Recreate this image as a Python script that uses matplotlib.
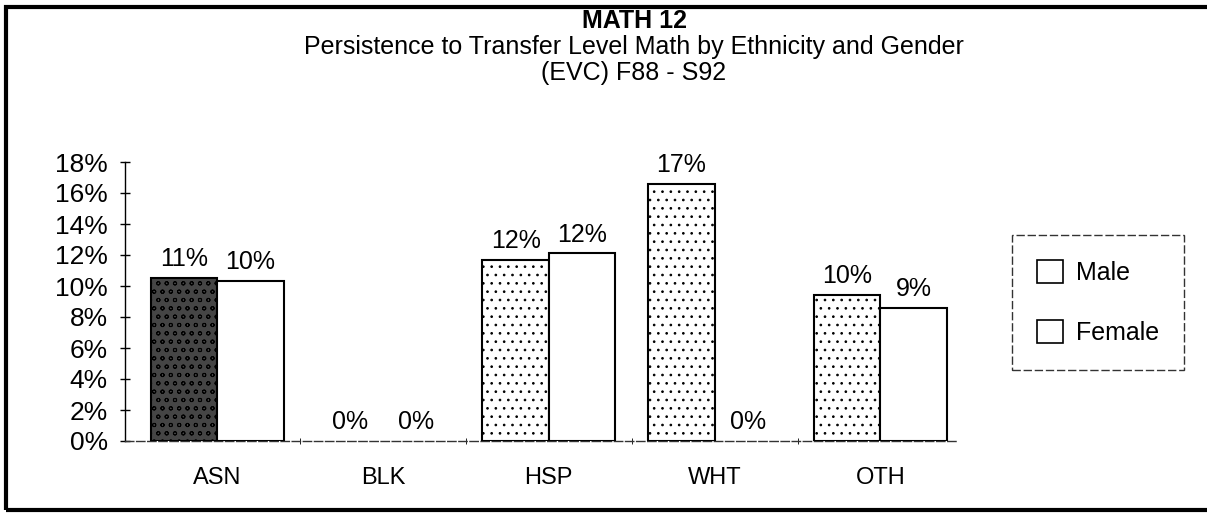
import matplotlib
matplotlib.use("Agg")
import matplotlib.pyplot as plt
from matplotlib.patches import Rectangle
import numpy as np

plt.rcParams['font.family'] = ['Liberation Sans', 'DejaVu Sans']
plt.rcParams['hatch.linewidth'] = 0.7

categories = ["ASN", "BLK", "HSP", "WHT", "OTH"]
male = [10.5, 0.0, 11.7, 16.6, 9.4]
female = [10.3, 0.0, 12.1, 0.0, 8.6]
male_labels = ["11%", "0%", "12%", "17%", "10%"]
female_labels = ["10%", "0%", "12%", "0%", "9%"]
yticks = [0, 2, 4, 6, 8, 10, 12, 14, 16, 18]

W, H = 1207, 514
fig = plt.figure(figsize=(W / 100, H / 100), dpi=100)
ax = fig.add_axes([125 / W, 1 - 441 / H, 833 / W, 279 / H])

x = np.arange(len(categories))
w = 0.4
male_face = ['#454545', 'white', 'white', 'white', 'white']
male_hatch = ['oo', '..', '..', '..', '..']
for i in range(len(categories)):
    if male[i] > 0:
        ax.bar(x[i] - w / 2, male[i], w, facecolor=male_face[i], edgecolor='black',
               hatch=male_hatch[i], linewidth=1.5, zorder=3)
    if female[i] > 0:
        ax.bar(x[i] + w / 2, female[i], w, facecolor='white', edgecolor='black',
               linewidth=1.5, zorder=3)
    ax.annotate(male_labels[i], (x[i] - w / 2, male[i]), xytext=(0, 5),
                textcoords='offset points', ha='center', va='bottom', fontsize=18)
    ax.annotate(female_labels[i], (x[i] + w / 2, female[i]), xytext=(0, 5),
                textcoords='offset points', ha='center', va='bottom', fontsize=18)

ax.set_xlim(-0.556, 4.468)
ax.set_ylim(0, 18)
ax.set_yticks(yticks)
ax.set_yticklabels([f"{t}%" for t in yticks], fontsize=19)
ax.set_xticks(x)
ax.set_xticklabels(categories, fontsize=17)
ax.set_xticks(np.arange(0.5, 4.0, 1.0), minor=True)
ax.tick_params(axis='x', which='major', length=0, pad=19)
ax.tick_params(axis='x', which='minor', length=5, direction='inout')
ax.tick_params(axis='y', length=7, direction='inout', width=1, pad=9)
for s in ['top', 'right']:
    ax.spines[s].set_visible(False)
ax.spines['bottom'].set_linestyle((0, (6, 2)))
ax.spines['bottom'].set_linewidth(1)
ax.spines['bottom'].set_color('#333333')
ax.spines['left'].set_linewidth(1)

# legend
lg_handles = [Rectangle((0, 0), 1, 1, facecolor='white', edgecolor='black', linewidth=1.2),
              Rectangle((0, 0), 1, 1, facecolor='white', edgecolor='black', linewidth=1.2)]
leg = fig.legend(lg_handles, ["Male", "Female"], loc='upper left',
                 bbox_to_anchor=(1012 / W, 1 - 235 / H), fontsize=18,
                 frameon=True, fancybox=False, edgecolor='black',
                 handlelength=1.05, handleheight=1.05, labelspacing=1.4,
                 borderpad=1.0, handletextpad=0.5, borderaxespad=0)
leg.get_frame().set_linewidth(1.0)
leg.get_frame().set_linestyle((0, (6, 2)))

cx = 634 / W
fig.text(cx, 1 - 21 / H, "MATH 12", ha='center', va='center', fontsize=18, fontweight='bold')
fig.text(cx, 1 - 47 / H, "Persistence to Transfer Level Math by Ethnicity and Gender",
         ha='center', va='center', fontsize=18)
fig.text(cx, 1 - 73 / H, "(EVC) F88 - S92", ha='center', va='center', fontsize=18)

frame = Rectangle((6 / W, 4 / H), 1.0, 1 - 11 / H, transform=fig.transFigure,
                  fill=False, edgecolor='black', linewidth=3)
fig.patches.append(frame)

fig.savefig("out.png", dpi=100)
